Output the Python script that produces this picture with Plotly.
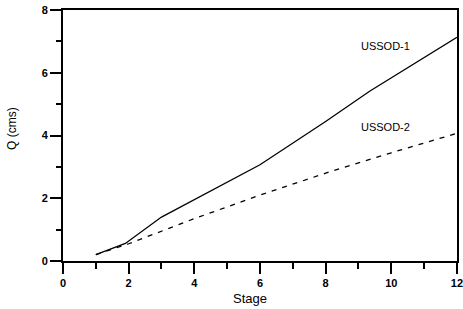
import plotly.graph_objects as go

stage_1 = [1.0, 1.9, 3.0, 6.0, 8.0, 9.34, 12.0]
q_1 = [0.2, 0.56, 1.4, 3.07, 4.45, 5.41, 7.13]
stage_2 = [1.0, 2.0, 4.0, 6.0, 8.0, 10.0, 12.0]
q_2 = [0.2, 0.55, 1.35, 2.1, 2.8, 3.45, 4.07]
labels = ["USSOD-1", "USSOD-2"]
label_x = [9.83, 9.83]
label_y = [6.87, 4.28]
x_ticks = [0, 2, 4, 6, 8, 10, 12]
y_ticks = [0, 2, 4, 6, 8]

W, H = 463, 309
L, R, T, B = 63, 6, 10, 48

fig = go.Figure()
fig.add_trace(go.Scatter(x=stage_1, y=q_1, mode="lines",
                         line=dict(color="black", width=1.3), showlegend=False))
fig.add_trace(go.Scatter(x=stage_2, y=q_2, mode="lines",
                         line=dict(color="black", width=1.3, dash="5px,6px"), showlegend=False))

for t, x, y in zip(labels, label_x, label_y):
    fig.add_annotation(x=x, y=y, text=t, showarrow=False,
                       font=dict(family="Liberation Sans", size=11, color="black"))

fig.add_annotation(xref="paper", yref="paper", x=(250 - L) / (W - L - R), y=-(298 - (H - B)) / (H - T - B),
                   text="Stage", showarrow=False, yanchor="middle",
                   font=dict(family="Liberation Sans", size=13, color="black"))
fig.add_annotation(xref="paper", yref="paper", x=-(L - 12) / (W - L - R), y=(H - B - 129) / (H - T - B),
                   text="Q (cms)", showarrow=False, textangle=-90, xanchor="center",
                   font=dict(family="Liberation Sans", size=12, color="black"))

axis_common = dict(showgrid=False, zeroline=False, showline=True, mirror=True, automargin=False,
                   linecolor="black", linewidth=2, ticks="outside", tickcolor="black",
                   tickwidth=2, ticklen=11, tickmode="array", ticklabeloverflow="allow",
                   tickfont=dict(family="Liberation Sans", size=11, color="black"))

fig.update_xaxes(range=[0, 12.002], tickvals=x_ticks, ticktext=[f"<b>{v}</b>" for v in x_ticks],
                 minor=dict(tickmode="linear", tick0=0, dtick=1, ticks="outside", ticklen=6,
                            tickwidth=1.5, tickcolor="black"),
                 **axis_common)
fig.update_yaxes(range=[0, 8.002], tickvals=y_ticks, ticktext=[f"<b>{v}</b>" for v in y_ticks],
                 minor=dict(tickmode="linear", tick0=0, dtick=1, ticks="outside", ticklen=5,
                            tickwidth=1.5, tickcolor="black"),
                 **axis_common)

fig.update_layout(width=W, height=H, margin=dict(l=L, r=R, t=T, b=B),
                  plot_bgcolor="white", paper_bgcolor="white")

fig.write_html("out.html", config={"displayModeBar": False},
               post_script="document.body.style.margin='0';")
